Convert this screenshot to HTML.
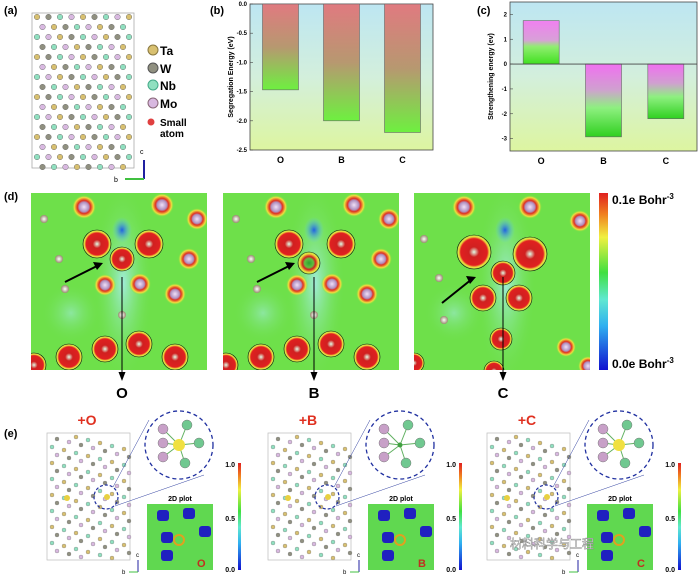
<!DOCTYPE html>
<html><head><meta charset="utf-8"><style>
body{margin:0;background:#fff;width:698px;height:582px;overflow:hidden;font-family:"Liberation Sans",sans-serif}
svg text{font-family:"Liberation Sans",sans-serif}
</style></head><body>
<svg id="fig" width="698" height="582" viewBox="0 0 698 582" xmlns="http://www.w3.org/2000/svg">
<defs>
<linearGradient id="bgB" x1="0" y1="0" x2="0" y2="1"><stop offset="0" stop-color="#bde6f2"/><stop offset="0.5" stop-color="#d3efdc"/><stop offset="1" stop-color="#ddf5a0"/></linearGradient>
<linearGradient id="barB" x1="0" y1="0" x2="0" y2="1"><stop offset="0" stop-color="#e07a80"/><stop offset="0.5" stop-color="#b79870"/><stop offset="1" stop-color="#6ef040"/></linearGradient>
<linearGradient id="barCp" x1="0" y1="0" x2="0" y2="1"><stop offset="0" stop-color="#f080f0"/><stop offset="0.45" stop-color="#d8a0d8"/><stop offset="0.6" stop-color="#90ee70"/><stop offset="1" stop-color="#40e020"/></linearGradient>
<linearGradient id="barCn" x1="0" y1="0" x2="0" y2="1"><stop offset="0" stop-color="#f070f0"/><stop offset="0.35" stop-color="#d0a0d0"/><stop offset="0.6" stop-color="#8ef080"/><stop offset="1" stop-color="#30d020"/></linearGradient>
<linearGradient id="cbar" x1="0" y1="1" x2="0" y2="0"><stop offset="0" stop-color="#1010d0"/><stop offset="0.25" stop-color="#30b0f0"/><stop offset="0.4" stop-color="#60e8d0"/><stop offset="0.55" stop-color="#40e040"/><stop offset="0.75" stop-color="#f0f040"/><stop offset="0.88" stop-color="#f08020"/><stop offset="1" stop-color="#e02020"/></linearGradient>
<radialGradient id="blob"><stop offset="0" stop-color="#e0ffe8"/><stop offset="0.3" stop-color="#d02020"/><stop offset="0.78" stop-color="#e02020"/><stop offset="0.9" stop-color="#f0e040"/><stop offset="1" stop-color="#a0e840"/></radialGradient>
<radialGradient id="blobG"><stop offset="0" stop-color="#30a030"/><stop offset="0.4" stop-color="#60c040"/><stop offset="0.6" stop-color="#d02020"/><stop offset="0.85" stop-color="#f0e040"/><stop offset="1" stop-color="#a0e840"/></radialGradient>
<radialGradient id="blob2"><stop offset="0" stop-color="#f0e0f8"/><stop offset="0.4" stop-color="#b090c0"/><stop offset="0.55" stop-color="#e03020"/><stop offset="0.8" stop-color="#f0e040"/><stop offset="1" stop-color="#70e040" stop-opacity="0"/></radialGradient>
<radialGradient id="atom"><stop offset="0" stop-color="#fff"/><stop offset="1" stop-color="#9a8a70"/></radialGradient>
<radialGradient id="hole"><stop offset="0" stop-color="#2060e0"/><stop offset="1" stop-color="#60d0f0" stop-opacity="0"/></radialGradient>
<radialGradient id="band"><stop offset="0" stop-color="#a0ecd8"/><stop offset="1" stop-color="#6ee04a" stop-opacity="0"/></radialGradient>
</defs>
<g id="pa">
<text x="4" y="14" font-size="11" font-weight="bold">(a)</text>
<rect x="32" y="13" width="102" height="155" fill="none" stroke="#aaa" stroke-width="0.8"/>
<g id="atomsA"></g>
<g font-size="12" font-weight="bold">
<circle cx="153" cy="50" r="5" fill="#d8c070" stroke="#887740"/><text x="160" y="55">Ta</text>
<circle cx="153" cy="68" r="5" fill="#909080" stroke="#555"/><text x="160" y="73">W</text>
<circle cx="153" cy="85" r="5" fill="#90e0c0" stroke="#4a8"/><text x="160" y="90">Nb</text>
<circle cx="153" cy="103" r="5" fill="#d8b8e0" stroke="#867"/><text x="160" y="108">Mo</text>
<circle cx="151" cy="122" r="3.5" fill="#e04040"/><text x="160" y="126" font-size="10">Small</text><text x="160" y="137" font-size="10">atom</text>
</g>
<line x1="144" y1="179" x2="144" y2="160" stroke="#2020a0" stroke-width="2"/><text x="140" y="154" font-size="7">c</text>
<line x1="144" y1="179" x2="125" y2="179" stroke="#40c040" stroke-width="2"/><text x="114" y="182" font-size="7">b</text>
</g>
<g id="pb"><text x="210" y="14" font-size="11" font-weight="bold">(b)</text></g>
<g id="pc"><text x="477" y="14" font-size="11" font-weight="bold">(c)</text></g>
<g id="pd">
<text x="4" y="200" font-size="11" font-weight="bold">(d)</text>
<rect x="599" y="193" width="9" height="177" fill="url(#cbar)"/>
<text x="612" y="204" font-size="12" font-weight="bold">0.1e Bohr<tspan font-size="8" dy="-5">-3</tspan></text>
<text x="612" y="368" font-size="12" font-weight="bold">0.0e Bohr<tspan font-size="8" dy="-5">-3</tspan></text>
</g>
<g id="pe">
<text x="4" y="437" font-size="11" font-weight="bold">(e)</text>
</g>
<text x="510" y="548" font-size="12" fill="#fff" stroke="#888" stroke-width="0.5" font-family="Noto Sans CJK SC,sans-serif">材料科学与工程</text>
</svg>
<script>
const NS='http://www.w3.org/2000/svg';
function mk(p,t,a){const e=document.createElementNS(NS,t);for(const k in a)e.setAttribute(k,a[k]);p.appendChild(e);return e;}
// ---- chart data ----
const catsB=['O','B','C'];
const valsB=[-1.47,-2.0,-2.2];
const ticksB=[0,-0.5,-1.0,-1.5,-2.0,-2.5];
const catsC=['O','B','C'];
const valsC=[1.75,-2.93,-2.2];
const ticksC=[2,1,0,-1,-2,-3];

function chart(g,box,ymin,ymax,cats,vals,ticks,title,fmt,gradFn,zeroLine){
  const {x0,x1,y0,y1}=box;
  const ys=v=>y0+(ymax-v)/(ymax-ymin)*(y1-y0);
  const bw=(x1-x0)/cats.length;
  const xs=i=>x0+bw*(i+0.5);
  const bg=mk(g,'rect',{x:x0,y:y0,width:x1-x0,height:y1-y0,fill:'url(#bgB)',stroke:'#444','stroke-width':0.8});
  
  
  vals.forEach((v,i)=>{
    const a=ys(Math.max(v,0)),b=ys(Math.min(v,0));
    const r=mk(g,'rect',{x:xs(i)-18,y:a,width:36,height:b-a,fill:gradFn(v),stroke:'#666','stroke-width':0.6});
    
    
    const t=mk(g,'text',{x:xs(i),y:y1+13,'font-size':9,'font-weight':'bold','text-anchor':'middle','font-family':'Liberation Serif,serif'});
    t.textContent=cats[i];
    
    
  });
  ticks.forEach(v=>{
    mk(g,'line',{x1:x0,x2:x0+3,y1:ys(v),y2:ys(v),stroke:'#444','stroke-width':0.6});
    const t=mk(g,'text',{x:x0-3,y:ys(v)+2,'font-size':6,'font-weight':'bold','text-anchor':'end','font-family':'Liberation Serif,serif'});
    t.textContent=fmt(v);
    
    
  });
  if(zeroLine) mk(g,'line',{x1:x0,x2:x1,y1:ys(0),y2:ys(0),stroke:'#444','stroke-width':0.8});
  const yt=mk(g,'text',{transform:`translate(${x0-17},${(y0+y1)/2}) rotate(-90)`,'font-size':7,'font-weight':'bold','text-anchor':'middle','font-family':'Liberation Serif,serif'});
  yt.textContent=title;
  
  
}
chart(document.getElementById('pb'),{x0:250,x1:433,y0:4,y1:150},-2.5,0,catsB,valsB,ticksB,'Segregation Energy (eV)',v=>v.toFixed(1),v=>'url(#barB)',false);
chart(document.getElementById('pc'),{x0:510,x1:697,y0:2,y1:151},-3.5,2.5,catsC,valsC,ticksC,'Strengthening energy (ev)',v=>String(v),v=>v>0?'url(#barCp)':'url(#barCn)',true);

// ---- panel a atoms (decorative) ----
const cols=['#d8c070','#909080','#90e0c0','#d8b8e0'];
const ga=document.getElementById('atomsA');
for(let r=0;r<16;r++)for(let c=0;c<9;c++){
  const x=37+c*11.5+(r%2)*5.5, y=17+r*10;
  if(x>132)continue;
  mk(ga,'circle',{cx:x,cy:y,r:2.8,fill:cols[(r*3+c*5)%4],stroke:'#777','stroke-width':0.5});
}
// ---- panel d maps ----
const pd=document.getElementById('pd');
const defs=document.querySelector('defs');
const maps=[[31,'O'],[223,'B'],[414,'C']];
maps.forEach(([x,l],k)=>{
  const y=193,H=177,W=176;
  const cp=mk(defs,'clipPath',{id:'clip'+k});
  mk(cp,'rect',{x:x,y:y,width:W,height:H});
  const g=mk(pd,'g',{'clip-path':`url(#clip${k})`});
  
  
  mk(g,'rect',{x:x,y:y,width:W,height:H,fill:'#6ee04a'});
  mk(g,'ellipse',{cx:x+92,cy:y+90,rx:30,ry:100,fill:'url(#band)'});
  mk(g,'ellipse',{cx:x+40,cy:y+120,rx:30,ry:30,fill:'url(#band)',opacity:0.6});
  mk(g,'ellipse',{cx:x+91,cy:y+37,rx:10,ry:13,fill:'url(#hole)'});
  let small=[[53,14,12],[131,12,12],[166,26,11],[74,92,11],[109,91,11],[144,101,11],[158,66,11]];
  let big=[[66,51,14],[118,51,14],[38,164,13],[74,156,13],[108,151,13],[144,164,13],[3,172,12]];
  let atoms=[[13,26],[28,66],[34,96],[91,122]];
  let ctr=[91,66,12,'url(#blob)'];
  let arr=[34,89,68,72];
  if(k==1){ctr=[86,70,11,'url(#blobG)'];}
  if(k==2){
    small=[[50,14,12],[116,14,12],[166,28,11],[152,154,10],[174,173,10]];
    big=[[60,59,17],[116,61,17],[69,105,13],[105,105,13],[87,146,11],[0,170,10],[80,178,10]];
    atoms=[[10,46],[25,85],[30,127]];
    ctr=[89,80,12,'url(#blob)'];
    arr=[28,110,58,86];
  }
  small.forEach(([a,b,r])=>mk(g,'circle',{cx:x+a,cy:y+b,r:r,fill:'url(#blob2)'}));
  big.forEach(([a,b,r])=>mk(g,'circle',{cx:x+a,cy:y+b,r:r,fill:'url(#blob)',stroke:'#111','stroke-width':0.6}));
  mk(g,'circle',{cx:x+ctr[0],cy:y+ctr[1],r:ctr[2],fill:ctr[3],stroke:'#111','stroke-width':0.6});
  atoms.forEach(([a,b])=>mk(g,'circle',{cx:x+a,cy:y+b,r:4,fill:'url(#atom)'}));
  const lx=x+(k==2?89:91);
  const g2=mk(pd,'g',{});
  
  
  mk(g2,'line',{x1:lx,y1:y+84,x2:lx,y2:378,stroke:'#000','stroke-width':1});
  mk(g2,'path',{d:`M${lx-3.5} 372 L${lx+3.5} 372 L${lx} 381Z`,fill:'#000'});
  mk(g2,'line',{x1:x+arr[0],y1:y+arr[1],x2:x+arr[2],y2:y+arr[3],stroke:'#000','stroke-width':2});
  mk(g2,'path',{d:`M${x+arr[2]+4} ${y+arr[3]-2} L${x+arr[2]-6} ${y+arr[3]-3} L${x+arr[2]-2} ${y+arr[3]+5}Z`,fill:'#000'});
  const t=mk(g2,'text',{x:lx,y:398,'font-size':15,'font-weight':'bold','text-anchor':'middle'});
  t.textContent=l;
  
  
});
// ---- panel e ----
const pe=document.getElementById('pe');
const eP=[[0,'+O','O'],[221,'+B','B'],[440,'+C','C']];
eP.forEach(([o,l,s])=>{
  const x=47+o, cx=179+o, cy=445;
  const g=mk(pe,'g',{});
  
  
  const t=mk(g,'text',{x:x+40,y:425,'font-size':14,'font-weight':'bold',fill:'#e03020','text-anchor':'middle'});
  t.textContent=l;
  mk(g,'rect',{x:x,y:433,width:83,height:127,fill:'none',stroke:'#bbb','stroke-width':0.7});
  for(let r=0;r<16;r++)for(let c=0;c<7;c++){
    const ax=x+5+c*12+(r%2)*5, ay=437+r*8+c*3-6;
    if(ax>x+82||ay>558||ay<435)continue;
    mk(g,'circle',{cx:ax,cy:ay,r:2,fill:cols[(r+c*2)%4],stroke:'#888','stroke-width':0.4});
  }
  mk(g,'circle',{cx:x+20,cy:498,r:3,fill:'#e8d040'});
  mk(g,'circle',{cx:x+60,cy:497,r:3,fill:'#e8d040'});
  mk(g,'circle',{cx:x+59,cy:497,r:12,fill:'none',stroke:'#2030a0','stroke-width':1.2,'stroke-dasharray':'3 2'});
  mk(g,'line',{x1:x+66,y1:487,x2:cx-30,y2:cy-25,stroke:'#3040a0','stroke-width':0.5});
  mk(g,'line',{x1:x+68,y1:506,x2:cx+25,y2:cy+30,stroke:'#3040a0','stroke-width':0.5});
  mk(g,'ellipse',{cx:cx,cy:cy,rx:34,ry:34,fill:'#fff',stroke:'#2030a0','stroke-width':1.3,'stroke-dasharray':'4 3'});
  [[-16,-16,3],[-16,-2,3],[-16,12,3],[8,-20,2],[20,-2,2],[6,18,2]].forEach(([a,b,q])=>{
    mk(g,'line',{x1:cx,y1:cy,x2:cx+a,y2:cy+b,stroke:'#60b060','stroke-width':1});
    mk(g,'circle',{cx:cx+a,cy:cy+b,r:5,fill:q==3?'#c8a0c8':'#70c890',stroke:'#777','stroke-width':0.5});
  });
  mk(g,'circle',{cx:cx,cy:cy,r:s=='B'?2.5:6,fill:s=='B'?'#40a040':'#f0e040'});
  const tt=mk(g,'text',{x:x+133,y:501,'font-size':7,'font-weight':'bold','text-anchor':'middle'});
  tt.textContent='2D plot';
  mk(g,'rect',{x:x+100,y:504,width:66,height:66,fill:'#60d850'});
  [[10,6],[36,4],[14,28],[14,46],[52,22]].forEach(([a,b])=>mk(g,'rect',{x:x+100+a,y:504+b,width:12,height:11,rx:3,fill:'#2020c0'}));
  mk(g,'circle',{cx:x+132,cy:540,r:5,fill:'none',stroke:'#e0a020','stroke-width':2});
  const ol=mk(g,'text',{x:x+150,y:567,'font-size':11,'font-weight':'bold',fill:'#c03020'});
  ol.textContent=s;
  const cbx=x+191;
  mk(g,'rect',{x:cbx,y:463,width:3,height:107,fill:'url(#cbar)'});
  [['1.0',467],['0.5',521],['0.0',572]].forEach(([v,y])=>{const q=mk(g,'text',{x:cbx-3,y:y,'font-size':7,'font-weight':'bold','text-anchor':'end'});q.textContent=v;});
  mk(g,'line',{x1:x+91,y1:572,x2:x+91,y2:560,stroke:'#2020a0','stroke-width':1});
  mk(g,'line',{x1:x+91,y1:572,x2:x+82,y2:572,stroke:'#40c040','stroke-width':1});
  const bt=mk(g,'text',{x:x+75,y:574,'font-size':6});bt.textContent='b';
  const ct=mk(g,'text',{x:x+89,y:557,'font-size':6});ct.textContent='c';
});
</script>
</body></html>
